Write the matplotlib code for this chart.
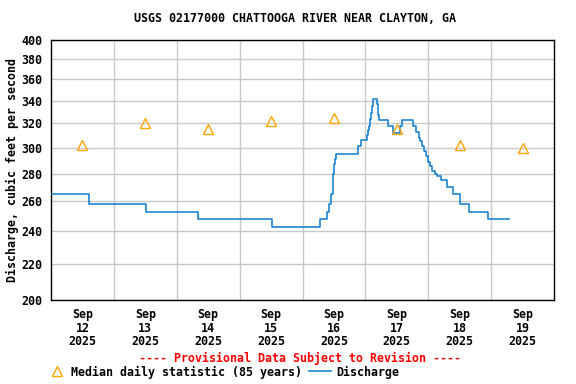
import matplotlib
matplotlib.use("Agg")
import matplotlib.pyplot as plt
from matplotlib.lines import Line2D
from matplotlib.ticker import FixedLocator, NullFormatter, NullLocator
import pandas as pd

# ---------------- data ----------------
median_days = ["2025-09-12 12:00", "2025-09-13 12:00", "2025-09-14 12:00", "2025-09-15 12:00",
               "2025-09-16 12:00", "2025-09-17 12:00", "2025-09-18 12:00", "2025-09-19 12:00"]
median_values = [302, 320, 315, 322, 325, 315, 302, 300]

step_times = ["2025-09-12 00:00", "2025-09-12 14:30", "2025-09-13 12:15", "2025-09-14 08:00",
              "2025-09-15 12:15", "2025-09-16 06:45", "2025-09-16 09:30", "2025-09-16 10:15",
              "2025-09-16 10:45", "2025-09-16 11:00", "2025-09-16 11:30", "2025-09-16 11:45",
              "2025-09-16 12:00", "2025-09-16 12:30", "2025-09-16 12:45", "2025-09-16 21:15",
              "2025-09-16 22:30", "2025-09-17 00:30", "2025-09-17 01:00", "2025-09-17 01:15",
              "2025-09-17 01:45", "2025-09-17 02:00", "2025-09-17 02:30", "2025-09-17 02:45",
              "2025-09-17 04:30", "2025-09-17 04:45", "2025-09-17 05:00", "2025-09-17 05:15",
              "2025-09-17 08:30", "2025-09-17 10:30", "2025-09-17 13:15", "2025-09-17 14:00",
              "2025-09-17 18:00", "2025-09-17 19:15", "2025-09-17 20:30", "2025-09-17 21:00",
              "2025-09-17 21:45", "2025-09-17 22:30", "2025-09-17 23:15", "2025-09-18 00:00",
              "2025-09-18 00:45", "2025-09-18 01:30", "2025-09-18 02:30", "2025-09-18 03:30",
              "2025-09-18 05:00", "2025-09-18 07:00", "2025-09-18 09:30", "2025-09-18 12:00",
              "2025-09-18 15:30", "2025-09-18 22:45", "2025-09-19 07:00"]
step_values = [265, 258, 253, 248,
               243, 248, 253, 258,
               261, 265, 270, 280,
               287, 291, 295, 301,
               306, 310, 314, 318,
               324, 329, 335, 341,
               337, 331, 327, 323,
               318, 312, 318, 323,
               318, 313, 308, 305,
               301, 297, 293, 289,
               286, 282, 280, 278,
               275, 270, 265, 258,
               253, 248, 248]

y_ticks = [200, 220, 240, 260, 280, 300, 320, 340, 360, 380, 400]
x_tick_days = pd.date_range("2025-09-12 12:00", periods=8, freq="D")
x_tick_labels = [f"Sep\n{d.day}\n{d.year}" for d in x_tick_days]
x_grid_days = pd.date_range("2025-09-13", periods=7, freq="D")

title = "USGS 02177000 CHATTOOGA RIVER NEAR CLAYTON, GA"
ylabel = "Discharge, cubic feet per second"
provisional = "---- Provisional Data Subject to Revision ----"
legend_median = "Median daily statistic (85 years)"
legend_discharge = "Discharge"

# ---------------- plot ----------------
W, H = 576, 384
fig = plt.figure(figsize=(W / 100, H / 100), dpi=100)
font = dict(family="DejaVu Sans Mono", weight="bold", size=8.4)

L, R, T, B = 51, 554, 39.5, 300
ax = fig.add_axes([L / W, 1 - B / H, (R - L) / W, (B - T) / H])

line_color = "#0a7ad0"
tri_color = "#ffa500"

ax.plot(pd.to_datetime(step_times), step_values, drawstyle="steps-post",
        color=line_color, lw=1.1, zorder=3)
ax.plot(pd.to_datetime(median_days), median_values, linestyle="none", marker="^",
        markersize=6.5, markerfacecolor="none", markeredgecolor=tri_color,
        markeredgewidth=1.0, zorder=4)

ax.set_yscale("log")
ax.set_ylim(200, 400)
ax.yaxis.set_major_locator(FixedLocator(y_ticks))
ax.yaxis.set_minor_locator(NullLocator())
ax.yaxis.set_minor_formatter(NullFormatter())
ax.set_yticklabels([str(v) for v in y_ticks], **font)

ax.set_xlim(pd.Timestamp("2025-09-12"), pd.Timestamp("2025-09-20"))
ax.set_xticks(x_tick_days)
ax.set_xticklabels(x_tick_labels, **font, linespacing=1.05)
ax.set_xticks(x_grid_days, minor=True)

ax.tick_params(axis="both", which="both", length=0)
ax.tick_params(axis="y", pad=6)
ax.tick_params(axis="x", pad=6)
ax.grid(True, axis="y", which="major", color="#c8c8c8", lw=1)
ax.grid(True, axis="x", which="minor", color="#c8c8c8", lw=1)
ax.grid(False, axis="x", which="major")
ax.set_axisbelow(True)
for s in ax.spines.values():
    s.set_linewidth(1)
    s.set_color("black")

ax.set_ylabel(ylabel, **font)
ax.yaxis.set_label_coords((12 - L) / (R - L), 0.5)
ax.yaxis.label.set_va("center")

fig.text(295 / W, 1 - 19 / H, title, ha="center", va="center", **font)
fig.text(300 / W, 1 - 358 / H, provisional, ha="center", va="center",
         color="red", **{k: v for k, v in font.items()})

# legend
fig.add_artist(Line2D([57 / W], [1 - 371 / H], transform=fig.transFigure, marker="^",
                      markersize=6.5, markerfacecolor="none", markeredgecolor=tri_color,
                      markeredgewidth=1.0, linestyle="none"))
fig.text(71 / W, 1 - 372 / H, legend_median, ha="left", va="center", **font)
fig.add_artist(Line2D([309 / W, 331 / W], [1 - 371 / H, 1 - 371 / H],
                      transform=fig.transFigure, color=line_color, lw=1.1))
fig.text(336 / W, 1 - 372 / H, legend_discharge, ha="left", va="center", **font)

fig.savefig("out.png", dpi=100)
